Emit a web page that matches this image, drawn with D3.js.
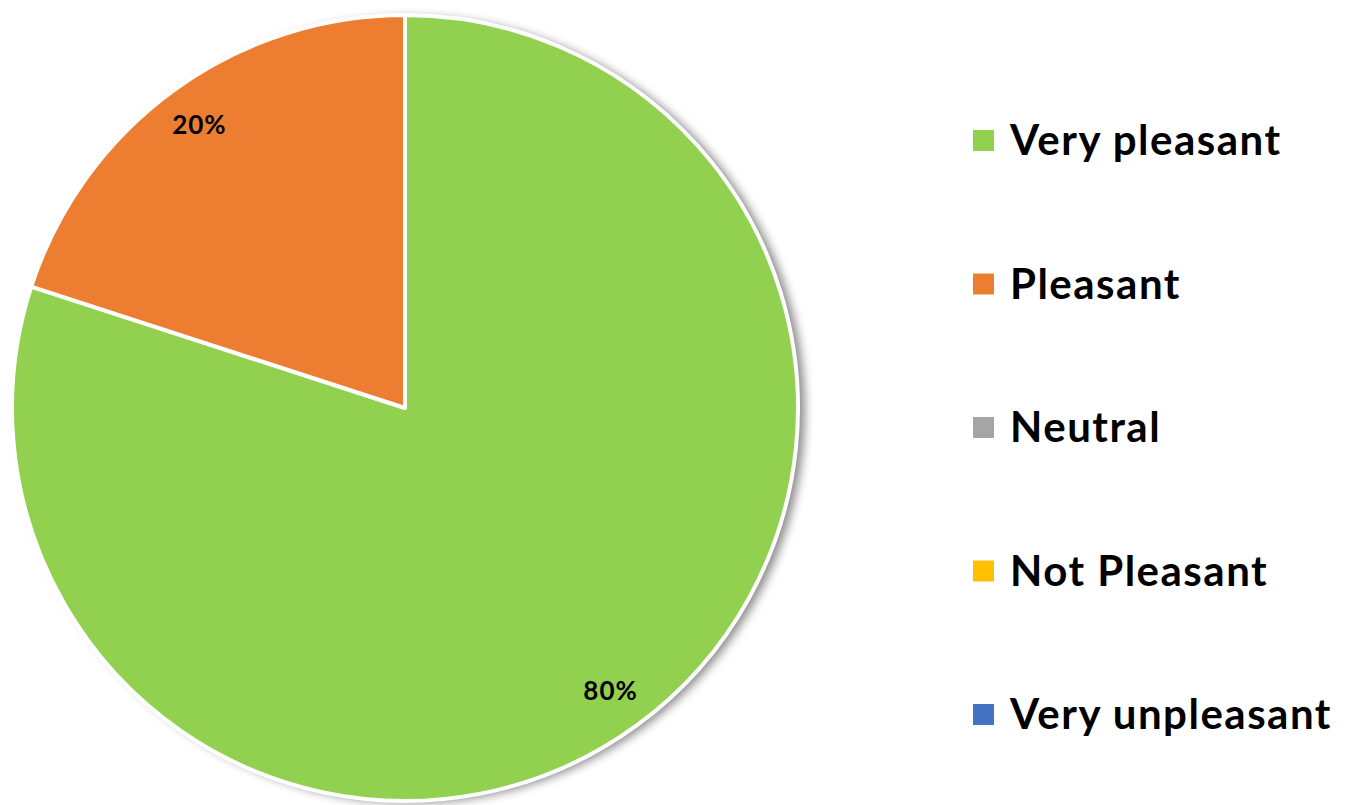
<!DOCTYPE html>
<html lang="en">
<head>
<meta charset="UTF-8">
<title>Pleasantness pie</title>
<script src="https://d3js.org/d3.v7.min.js"></script>
<style>
  body { margin: 0; background: #fff; overflow: hidden; }
  text { font-family: Lato, 'Open Sans', sans-serif; font-weight: 700; fill: #000; }
</style>
</head>
<body>
<div id="chart"></div>
<script>
const categories = ["Very pleasant", "Pleasant", "Neutral", "Not Pleasant", "Very unpleasant"];
const values = [80, 20, 0, 0, 0];
const colors = ["#92d050", "#ed7d31", "#a5a5a5", "#ffc000", "#4472c4"];

const width = 1349, height = 805;
const cx = 405, cy = 408, r = 393;

const svg = d3.select("#chart").append("svg")
  .attr("width", width).attr("height", height);

// soft shadow to the right like the Excel original
const defs = svg.append("defs");
const f = defs.append("filter").attr("id", "shadow")
  .attr("x", "-10%").attr("y", "-10%").attr("width", "125%").attr("height", "125%");
f.append("feDropShadow").attr("dx", 7).attr("dy", 2).attr("stdDeviation", 5)
  .attr("flood-color", "#000").attr("flood-opacity", 0.45);

const pie = d3.pie().sort(null).value(d => d.v);
const arcs = pie(categories.map((c, i) => ({ c, v: values[i], color: colors[i] })));
const arc = d3.arc().innerRadius(0).outerRadius(r);
const labelArc = d3.arc().innerRadius(r * 0.89).outerRadius(r * 0.89);

const g = svg.append("g").attr("transform", `translate(${cx},${cy})`);

g.append("circle").attr("r", r).attr("fill", "#fff").attr("filter", "url(#shadow)");

g.selectAll("path")
  .data(arcs.filter(d => d.data.v > 0))
  .enter().append("path")
  .attr("d", arc)
  .attr("fill", d => d.data.color)
  .attr("stroke", "#fff")
  .attr("stroke-width", 4)
  .attr("stroke-linejoin", "round");

g.selectAll("text.pct")
  .data(arcs.filter(d => d.data.v > 0))
  .enter().append("text")
  .attr("class", "pct")
  .attr("transform", d => `translate(${labelArc.centroid(d)})`)
  .attr("text-anchor", "middle")
  .attr("dy", "0.35em")
  .style("font-size", "26px")
  .style("letter-spacing", "1px")
  .text(d => d.data.v + "%");

// legend
const ly = d3.scalePoint().domain(categories).range([140, 714]);
const leg = svg.append("g").selectAll("g")
  .data(categories).enter().append("g")
  .attr("transform", d => `translate(973,${ly(d)})`);

leg.append("rect")
  .attr("x", 0).attr("y", -10).attr("width", 21).attr("height", 21)
  .attr("fill", (d, i) => colors[i]);

leg.append("text")
  .attr("x", 37).attr("dy", "0.36em")
  .style("font-size", "42px")
  .style("letter-spacing", "1.5px")
  .text(d => d);
</script>
</body>
</html>
